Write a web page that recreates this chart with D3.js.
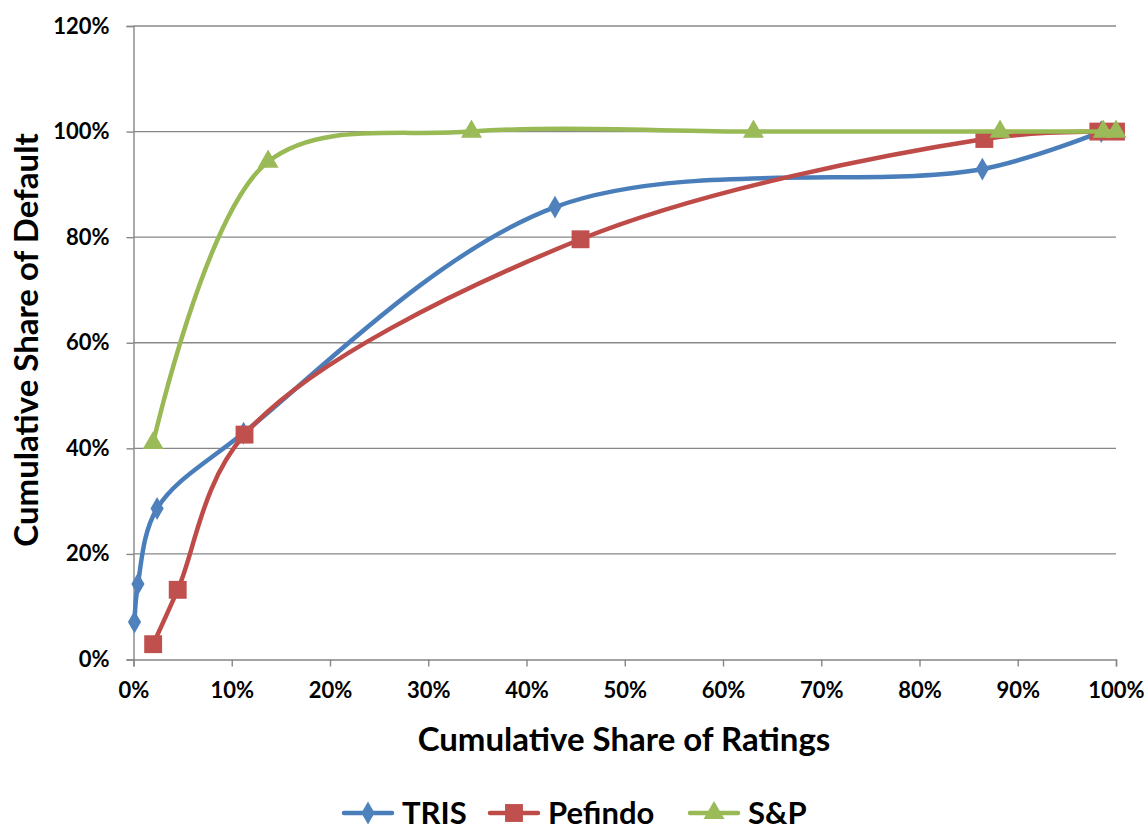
<!DOCTYPE html>
<html>
<head>
<meta charset="utf-8">
<script src="https://cdn.jsdelivr.net/npm/d3@7"></script>
<style>
  html, body { margin: 0; padding: 0; background: #fff; }
  svg { display: block; font-family: Lato, "Open Sans", sans-serif; font-weight: bold; }
</style>
</head>
<body>
<svg id="chart" width="1148" height="832"></svg>
<script>
// cumulative share of ratings (x) / cumulative share of default (y), in %
const trisX = [0.1, 0.45, 2.4, 11.2, 42.9, 86.4, 98.5];
const trisY = [7.1, 14.3, 28.6, 42.9, 85.7, 92.9, 100];
const pefindoX = [2.0, 4.5, 11.3, 45.5, 86.6, 98.2, 100];
const pefindoY = [2.9, 13.2, 42.6, 79.6, 98.6, 100, 100];
const spX = [2.0, 13.7, 34.4, 63.1, 88.2, 98.7, 100];
const spY = [41.0, 94.3, 100, 100, 100, 100, 100];

const seriesNames = ['TRIS', 'Pefindo', 'S&P'];
const xTicks = [0, 10, 20, 30, 40, 50, 60, 70, 80, 90, 100];
const yTicks = [0, 20, 40, 60, 80, 100, 120];

const series = [
    { name: seriesNames[0], xs: trisX, ys: trisY, color: '#4A7EBB', fill: '#4F81BD', symbol: 'diamond' },
    { name: seriesNames[1], xs: pefindoX, ys: pefindoY, color: '#BE4B48', fill: '#C0504D', symbol: 'square' },
    { name: seriesNames[2], xs: spX, ys: spY, color: '#98B954', fill: '#9BBB59', symbol: 'triangle' }
];

const svg = d3.select('#chart');
const margin = { left: 133.5, right: 1116, top: 26, bottom: 659.5 };

const x = d3.scaleLinear().domain([0, 100]).range([margin.left, margin.right]);
const y = d3.scaleLinear().domain([0, 120]).range([margin.bottom, margin.top]);

const gridColor = '#878787';

// horizontal gridlines
svg.append('g')
    .selectAll('line')
    .data(yTicks.filter(d => d > 0))
    .join('line')
    .attr('x1', margin.left).attr('x2', margin.right)
    .attr('y1', d => y(d)).attr('y2', d => y(d))
    .attr('stroke', gridColor)
    .attr('stroke-width', 1.4);

function styleAxis(g) {
    g.select('.domain').attr('stroke', gridColor).attr('stroke-width', 1.4);
    g.selectAll('.tick line').attr('stroke', gridColor).attr('stroke-width', 1.4);
    g.selectAll('text')
        .attr('fill', '#000')
        .style('font-size', '22px')
        .style('font-family', 'Lato, sans-serif')
        .style('font-weight', 'bold');
}

// y axis
svg.append('g')
    .attr('transform', `translate(${margin.left},0)`)
    .call(d3.axisLeft(y).tickValues(yTicks).tickFormat(d => d + '%').tickSize(7).tickPadding(17))
    .call(styleAxis);

// x axis
svg.append('g')
    .attr('transform', `translate(0,${margin.bottom})`)
    .call(d3.axisBottom(x).tickValues(xTicks).tickFormat(d => d + '%').tickSize(7).tickPadding(16))
    .call(styleAxis);

// axis titles
svg.append('text')
    .attr('x', 624)
    .attr('y', 751)
    .attr('text-anchor', 'middle')
    .style('font-size', '33px')
    .text('Cumulative Share of Ratings');

svg.append('text')
    .attr('transform', 'translate(38,340) rotate(-90)')
    .attr('text-anchor', 'middle')
    .style('font-size', '33px')
    .text('Cumulative Share of Default');

const symbols = {
    diamond: d3.symbol().type(d3.symbolDiamond).size(150),
    square: d3.symbol().type(d3.symbolSquare).size(320),
    triangle: d3.symbol().type(d3.symbolTriangle).size(190)
};

const line = d3.line()
    .x(d => x(d[0]))
    .y(d => y(d[1]))
    .curve(d3.curveCatmullRom.alpha(0.5));

const plot = svg.append('g');

series.forEach(s => {
    const pts = s.xs.map((v, i) => [v, s.ys[i]]);
    const g = plot.append('g');
    g.append('path')
        .datum(pts)
        .attr('d', line)
        .attr('fill', 'none')
        .attr('stroke', s.color)
        .attr('stroke-width', 4.5)
        .attr('stroke-linecap', 'round')
        .attr('stroke-linejoin', 'round');
    g.selectAll('path.marker')
        .data(pts)
        .join('path')
        .attr('class', 'marker')
        .attr('transform', d => `translate(${x(d[0])},${y(d[1])})`)
        .attr('d', symbols[s.symbol])
        .attr('fill', s.fill);
});

// legend
const legendX = [344, 490, 690];
const legend = svg.append('g');
series.forEach((s, i) => {
    const g = legend.append('g').attr('transform', `translate(${legendX[i]},813)`);
    g.append('line')
        .attr('x1', 0).attr('x2', 48)
        .attr('y1', 0).attr('y2', 0)
        .attr('stroke', s.color)
        .attr('stroke-width', 4.5)
        .attr('stroke-linecap', 'round');
    g.append('path')
        .attr('transform', 'translate(24,0)')
        .attr('d', symbols[s.symbol])
        .attr('fill', s.fill);
    g.append('text')
        .attr('x', 58)
        .attr('y', 11)
        .style('font-size', '31px')
        .text(s.name);
});
</script>
</body>
</html>
